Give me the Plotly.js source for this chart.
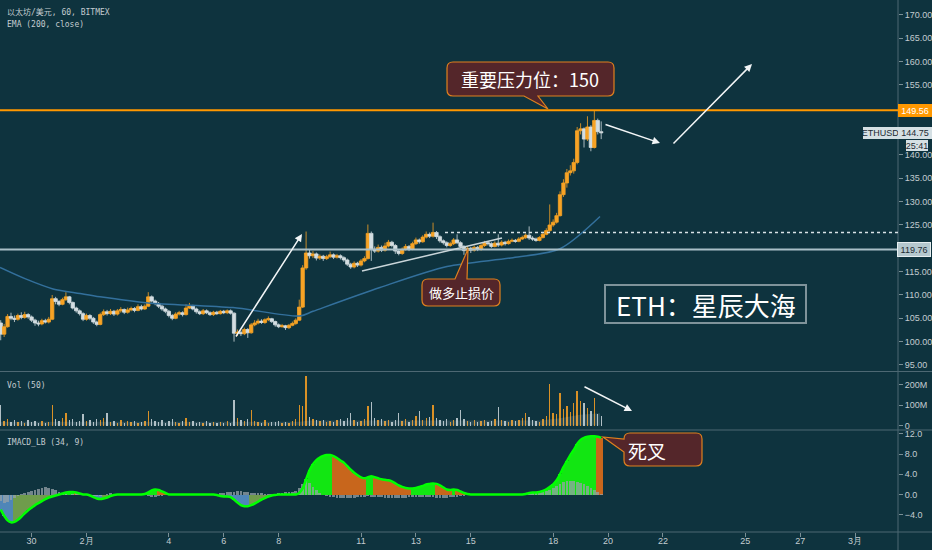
<!DOCTYPE html>
<html><head><meta charset="utf-8">
<script src="https://cdn.plot.ly/plotly-3.0.1.min.js"></script>
<style>html,body{margin:0;padding:0;background:#0e333e;}#chart{width:932px;height:550px;}</style>
</head><body><div id="chart"></div>
<script>
// ---------------- DATA ----------------
const startTime = Date.UTC(2019, 0, 28, 21, 0, 0); // first 3h candle
const barHours = 3;

const open = [104.0,101.6,103.2,105.4,105.0,104.8,105.6,105.2,105.8,105.3,
104.6,104.0,103.8,104.5,104.2,104.8,109.2,108.6,108.0,109.0,
109.6,108.4,107.2,106.6,106.0,104.8,105.6,105.0,104.2,103.7,
105.8,106.4,106.0,106.5,105.9,106.6,106.9,106.3,106.8,107.1,
106.7,107.5,107.0,107.6,109.6,108.7,108.2,107.6,107.0,106.5,
105.6,105.0,105.9,106.2,105.8,107.2,107.6,107.0,106.4,106.0,
106.6,106.2,105.8,106.3,106.0,106.5,106.2,106.6,106.1,101.8,
102.0,101.7,102.6,101.9,103.6,104.0,104.4,104.1,104.7,104.9,
104.3,103.6,103.2,103.4,103.0,103.5,103.9,104.6,107.4,115.8,
119.0,118.4,118.8,117.9,118.3,117.8,118.2,118.6,118.1,118.4,
118.0,117.5,116.6,116.0,116.8,116.4,117.3,117.8,123.2,119.8,
119.4,120.2,119.6,120.5,121.3,120.6,119.4,118.9,119.8,120.4,
119.8,121.0,121.8,121.4,122.4,123.0,122.6,123.4,122.5,121.6,
121.2,120.6,121.0,121.8,121.2,120.4,119.5,120.0,119.6,120.2,
119.8,120.6,121.2,121.0,120.4,121.1,120.7,121.3,121.0,121.5,
121.7,121.5,122.0,122.3,122.8,122.2,122.0,121.7,122.3,123.0,
123.8,125.0,125.6,127.0,131.5,134.0,136.2,136.6,138.4,145.2,
145.6,143.4,146.0,141.6,147.4,145.0];

const close = [101.6,103.2,105.4,105.0,104.8,105.6,105.2,105.8,105.3,104.6,
104.0,103.8,104.5,104.2,104.8,109.2,108.6,108.0,109.0,109.6,
108.4,107.2,106.6,106.0,104.8,105.6,105.0,104.2,103.7,105.8,
106.4,106.0,106.5,105.9,106.6,106.9,106.3,106.8,107.1,106.7,
107.5,107.0,107.6,109.6,108.7,108.2,107.6,107.0,106.5,105.6,
105.0,105.9,106.2,105.8,107.2,107.6,107.0,106.4,106.0,106.6,
106.2,105.8,106.3,106.0,106.5,106.2,106.6,106.1,101.8,102.0,
101.7,102.6,101.9,103.6,104.0,104.4,104.1,104.7,104.9,104.3,
103.6,103.2,103.4,103.0,103.5,103.9,104.6,107.4,115.8,119.0,
118.4,118.8,117.9,118.3,117.8,118.2,118.6,118.1,118.4,118.0,
117.5,116.6,116.0,116.8,116.4,117.3,117.8,123.2,119.8,119.4,
120.2,119.6,120.5,121.3,120.6,119.4,118.9,119.8,120.4,119.8,
121.0,121.8,121.4,122.4,123.0,122.6,123.4,122.5,121.6,121.2,
120.6,121.0,121.8,121.2,120.4,119.5,120.0,119.6,120.2,119.8,
120.6,121.2,121.0,120.4,121.1,120.7,121.3,121.0,121.5,121.7,
121.5,122.0,122.3,122.8,122.2,122.0,121.7,122.3,123.0,123.8,
125.0,125.6,127.0,131.5,134.0,136.2,136.6,138.4,145.2,145.6,
143.4,146.0,141.6,147.4,145.0,144.75];

const high = [104.6,103.8,105.9,106.2,105.6,106.0,106.3,106.4,106.1,105.6,
104.9,104.5,104.9,104.9,105.3,110.0,109.6,108.9,109.4,110.6,
109.8,108.6,107.5,106.9,106.3,106.0,105.9,105.3,104.5,106.2,
106.9,106.8,107.0,106.8,107.0,107.4,107.1,107.3,107.5,107.4,
108.0,107.9,108.0,110.6,109.9,109.0,108.5,107.9,107.3,106.8,
105.9,106.3,106.6,106.5,108.0,108.3,107.9,107.3,106.7,107.0,
106.9,106.5,106.6,106.6,106.8,106.8,106.9,106.9,106.3,102.6,
102.4,103.0,102.9,104.0,104.6,104.9,104.8,105.0,105.4,105.1,
104.5,103.9,103.8,103.6,103.8,104.3,105.0,109.0,116.4,123.6,
119.8,119.4,119.1,118.7,118.6,118.6,119.3,118.9,118.8,118.7,
118.3,117.8,116.9,117.2,117.1,117.7,118.3,125.1,123.6,120.4,
120.8,120.6,121.2,121.8,121.6,120.9,119.7,120.2,120.9,120.7,
121.4,122.3,122.1,122.8,123.6,123.4,125.5,123.7,122.8,121.9,
121.5,121.4,122.2,123.0,121.5,120.7,120.4,120.3,120.6,120.5,
121.0,121.6,121.5,121.3,121.5,123.0,121.7,121.6,121.9,122.1,
122.0,122.4,122.7,123.2,124.7,122.6,122.3,122.6,123.4,124.3,
129.4,126.2,127.6,132.2,134.8,137.0,137.8,139.2,146.0,146.8,
145.9,148.3,146.4,149.56,147.8,147.2];

const low = [100.3,101.0,103.0,104.6,104.2,104.5,104.8,104.9,104.9,104.2,
103.4,103.3,103.5,103.9,103.9,104.6,108.0,107.6,107.8,108.7,
108.0,106.9,106.2,105.6,104.4,104.5,104.6,103.8,103.3,103.5,
105.5,105.6,105.7,105.5,105.6,106.2,105.9,106.0,106.5,106.3,
106.5,106.7,106.8,107.4,108.4,107.8,107.2,106.6,106.1,105.2,
104.6,104.8,105.6,105.4,105.6,107.0,106.7,106.0,105.7,105.7,
105.9,105.5,105.5,105.7,105.8,105.9,105.9,105.8,100.0,101.2,
101.2,101.4,100.8,101.7,103.3,103.7,103.8,103.8,104.4,104.0,
103.2,102.9,103.0,102.5,102.7,103.3,103.6,104.4,107.2,115.4,
117.8,117.9,117.4,117.5,117.3,117.5,117.9,117.7,117.8,117.6,
117.1,116.2,115.6,115.7,116.0,116.1,117.0,117.6,117.3,119.0,
119.1,119.2,119.3,120.2,120.2,118.8,118.5,118.6,119.5,119.4,
119.6,120.7,121.0,121.2,122.1,122.2,122.3,122.0,121.2,120.8,
120.2,120.3,120.7,120.9,120.0,118.6,118.9,119.0,119.3,119.4,
119.5,120.3,120.6,120.1,120.2,120.3,120.4,120.6,120.8,121.3,
121.2,121.3,121.8,122.0,121.8,121.6,121.4,121.5,122.1,122.8,
123.5,124.6,125.3,126.8,131.0,133.0,135.6,136.0,138.0,144.4,
141.6,143.0,140.8,141.4,144.4,143.4];

// volume, millions
const volume = [100,20,30,18,25,15,22,12,28,16,
20,14,24,12,18,98,30,22,35,60,
25,30,18,22,58,20,26,15,30,25,
35,60,18,22,14,26,12,20,16,24,
14,18,22,70,30,22,16,28,14,20,
32,18,12,22,35,16,20,12,18,10,
22,14,16,10,18,12,20,14,122,35,
28,20,30,76,22,18,14,25,12,18,
15,22,10,18,14,20,30,102,95,242,
40,30,25,20,28,15,22,18,25,30,
20,35,60,25,18,22,30,95,116,35,
25,30,20,28,18,25,60,22,30,18,
25,45,70,28,35,40,102,35,28,22,
30,18,25,35,76,30,22,18,25,15,
20,28,18,22,30,90,25,20,18,28,
22,25,35,62,40,25,20,18,30,45,
204,60,55,158,80,95,65,110,167,120,
110,85,70,135,55,45];

// Volume MA (50), millions
const volMaTimes = ['2019-01-28 20:22','2019-02-08 18:40','2019-02-09 03:25','2019-02-17 12:30','2019-02-18 06:00','2019-02-18 23:30','2019-02-19 17:00'];
const volMaVals = [18,18,24,24,35,52,60];

// EMA(200, close)
const emaTimes = ['2019-01-28 20:22','2019-01-29 18:14','2019-01-30 18:43','2019-01-31 18:19','2019-02-01 11:48','2019-02-03 05:46','2019-02-06 08:05','2019-02-08 18:40','2019-02-09 06:01','2019-02-11 16:36','2019-02-14 03:12','2019-02-16 12:54','2019-02-18 06:00','2019-02-19 16:58'];
const emaVals = [115.9,113.5,111.3,110.3,109.6,108.3,107.3,105.5,106.5,111.6,116.1,118.0,119.9,126.8];

// IMACD_LB (34, 9)
const macd = [-3.0,-4.2,-5.1,-5.5,-5.4,-5.0,-4.4,-3.7,-3.1,-2.6,
-2.1,-1.7,-1.3,-0.9,-0.6,-0.4,-0.2,0.0,0.2,0.4,
0.5,0.5,0.4,0.2,0.0,0.0,-0.2,-0.5,-0.8,-0.9,
-0.8,-0.6,-0.3,-0.1,0,0,0,0,0,0,
0,0,0.1,0.4,0.8,1.0,0.9,0.6,0.3,0.0,
0,0,0,0,0,0,0,0,0,0,
0,0,0,-0.1,-0.3,-0.4,-0.4,-0.5,-1.0,-1.6,
-2.1,-2.3,-2.3,-2.1,-1.8,-1.4,-1.0,-0.7,-0.4,-0.2,
-0.1,0,0,0,0,0,0,0.3,1.2,3.0,
4.8,6.0,6.8,7.3,7.6,7.8,7.8,7.6,7.2,6.7,
6.3,5.6,4.9,4.3,3.8,3.4,3.2,3.4,3.6,3.4,
3.2,3.0,2.9,2.8,2.6,2.2,1.8,1.5,1.3,1.2,
1.2,1.3,1.5,1.7,2.0,2.1,2.2,2.1,1.8,1.4,
1.0,0.9,1.0,0.9,0.6,0.3,0.1,0,0,0,
0,0,0,0,0,0,0,0,0,0,
0,0,0,0.1,0.3,0.4,0.4,0.5,0.7,1.0,
1.5,2.0,2.8,4.0,5.4,6.6,7.8,8.8,10.0,10.8,
11.2,11.4,11.5,11.5,11.4,11.2];

const histo = [-1.2,-1.6,-1.4,-1.0,-0.6,-0.2,0.1,0.3,0.5,0.7,
0.9,1.1,1.3,1.4,1.3,1.1,0.8,0.5,0.3,0.1,
0,0.1,0.2,0.1,0,-0.1,-0.2,-0.3,-0.3,-0.2,
0,0.1,0.2,0.1,0,0,0,0,0,0,
0,0,-0.1,-0.3,-0.4,-0.4,-0.3,-0.2,-0.1,0,
0,0,0,0,0,0,0,0,0,0,
0,0,0,0.1,0.2,0.3,0.4,0.4,0.5,0.6,
0.6,0.5,0.4,0.3,0.3,0.2,0.2,0.1,0.1,0.1,
0.1,0.2,0.3,0.4,0.5,0.5,0.6,1.2,2.0,2.6,
2.2,1.5,0.8,0.3,0,-0.2,-0.4,-0.5,-0.6,-0.6,
-0.7,-0.7,-0.6,-0.6,-0.5,-0.5,-0.4,-0.3,-0.4,-0.5,
-0.5,-0.5,-0.6,-0.6,-0.6,-0.7,-0.7,-0.6,-0.6,-0.5,
-0.5,-0.4,-0.4,-0.4,-0.4,-0.5,-0.5,-0.6,-0.6,-0.6,
-0.6,-0.5,-0.5,-0.4,-0.3,-0.2,-0.1,0,0,0,
0,0,0,0,0,0,0,0,0,0,
0,0,0,0,0.1,0.2,0.2,0.3,0.4,0.6,
0.9,1.3,1.7,2.1,2.4,2.6,2.7,2.6,2.4,2.2,
2.0,1.6,1.2,0.8,0.4,0.1];

// horizontal levels
const resistLevel = 149.56;
const supportLevel = 119.76;
const dottedLevel = 123.4;
const lastPrice = 144.75;

const dateTicks = ['2019-01-30','2019-02-01','2019-02-04','2019-02-06','2019-02-08','2019-02-11','2019-02-13','2019-02-15','2019-02-18','2019-02-20','2019-02-22','2019-02-25','2019-02-27','2019-03-01'];
const dateTickText = ['30','2月','4','6','8','11','13','15','18','20','22','25','27','3月'];
const priceTicks = [170,165,160,155,140,135,130,125,115,110,105,100,95];
const volTicks = [0,100,200];
const volTickText = ['0','100M','200M'];
const macdTicks = [12,8,4,0,-4];
const macdTickText = ['12.0','8.0','4.0','0.0','\u22124.0'];

// ---------------- RENDER ----------------
const W = 932, H = 550;
const X = v => v / W, Y = v => 1 - v / H;
const pad = n => String(n).padStart(2, '0');
const fmt = ms => { const d = new Date(ms); return `${d.getUTCFullYear()}-${pad(d.getUTCMonth()+1)}-${pad(d.getUTCDate())} ${pad(d.getUTCHours())}:${pad(d.getUTCMinutes())}:${pad(d.getUTCSeconds())}`; };
const HOUR = 3600e3, DAY = 86400e3;
const times = close.map((_, i) => fmt(startTime + i * barHours * HOUR));

const feb1 = Date.UTC(2019, 1, 1);
const pxFeb1 = 86.5, pxPerDay = 27.45, axisPx = 898;
const xRange = [fmt(feb1 + (0 - pxFeb1) / pxPerDay * DAY), fmt(feb1 + (axisPx - pxFeb1) / pxPerDay * DAY)];

const BG = '#0e333e';
const UP = '#f7a325', DN = '#d3dde1';
const TXT = '#c3ccd0';
const GRIDC = '#4d6873';

const dirUp = close.map((c, i) => c >= open[i]);
const volColors = dirUp.map(u => u ? 'rgba(240,155,35,0.9)' : 'rgba(205,216,221,0.85)');
const macdColors = macd.map((v, i) => {
  const p = i ? macd[i - 1] : v;
  if (v >= 0) return v >= p ? '#12e612' : '#c8661c';
  return v <= p ? '#4f86b8' : '#6f9c4c';
});

const traces = [
  { type: 'scatter', mode: 'lines', x: emaTimes, y: emaVals, xaxis: 'x', yaxis: 'y',
    line: { color: '#33709c', width: 1.5, shape: 'spline', smoothing: 0.8 }, hoverinfo: 'skip' },
  { type: 'candlestick', x: times, open: open, high: high, low: low, close: close, xaxis: 'x', yaxis: 'y',
    increasing: { line: { color: UP, width: 0.8 }, fillcolor: UP },
    decreasing: { line: { color: DN, width: 0.8 }, fillcolor: DN },
    whiskerwidth: 0, hoverinfo: 'skip' },
  { type: 'scatter', mode: 'lines', x: volMaTimes, y: volMaVals, xaxis: 'x', yaxis: 'y2',
    fill: 'tozeroy', fillcolor: 'rgba(185,205,212,0.16)', line: { width: 0, color: 'rgba(0,0,0,0)' }, hoverinfo: 'skip' },
  { type: 'bar', x: times, y: volume, xaxis: 'x', yaxis: 'y2', width: barHours * HOUR * 0.4,
    marker: { color: volColors, line: { width: 0 } }, hoverinfo: 'skip' },
  { type: 'bar', x: times, y: macd, xaxis: 'x', yaxis: 'y3', width: barHours * HOUR,
    marker: { color: macdColors, line: { width: 0 } }, hoverinfo: 'skip' },
  { type: 'bar', x: times, y: histo, xaxis: 'x', yaxis: 'y3', width: barHours * HOUR * 0.8,
    marker: { color: 'rgba(150,162,168,0.75)', line: { width: 0 } }, hoverinfo: 'skip' },
  { type: 'scatter', mode: 'lines', x: times, y: macd, xaxis: 'x', yaxis: 'y3',
    line: { color: '#00ff00', width: 2.5, shape: 'spline', smoothing: 0.6 }, hoverinfo: 'skip' }
];

const axisCommon = { side: 'right', anchor: 'x', ticks: 'outside', ticklen: 4, tickcolor: '#7a8f96',
  showgrid: false, zeroline: false, showline: false, fixedrange: true,
  tickfont: { family: 'Liberation Sans, Arial, sans-serif', size: 9, color: TXT } };

function callout(b) {
  const P = (x, y) => `${X(x)},${Y(y)}`;
  const { x0, y0, x1, y1, r } = b;
  let d = `M${P(x0 + r, y0)}`;
  if (b.side === 'top') d += ` L${P(b.a, y0)} L${P(b.tx, b.ty)} L${P(b.c, y0)}`;
  d += ` L${P(x1 - r, y0)} Q${P(x1, y0)} ${P(x1, y0 + r)} L${P(x1, y1 - r)} Q${P(x1, y1)} ${P(x1 - r, y1)}`;
  if (b.side === 'bottom') d += ` L${P(b.c, y1)} L${P(b.tx, b.ty)} L${P(b.a, y1)}`;
  d += ` L${P(x0 + r, y1)} Q${P(x0, y1)} ${P(x0, y1 - r)}`;
  if (b.side === 'left') d += ` L${P(x0, b.c)} L${P(b.tx, b.ty)} L${P(x0, b.a)}`;
  d += ` L${P(x0, y0 + r)} Q${P(x0, y0)} ${P(x0 + r, y0)} Z`;
  return { type: 'path', xref: 'paper', yref: 'paper', path: d, fillcolor: '#54262a', line: { color: '#e0801e', width: 1.2 } };
}
const pline = (x0, y0, x1, y1, color, width, dash) => ({ type: 'line', xref: 'paper', yref: 'paper',
  x0: X(x0), y0: Y(y0), x1: X(x1), y1: Y(y1), line: { color: color, width: width, dash: dash || 'solid' } });

const shapes = [
  pline(0, 371.5, W, 371.5, GRIDC, 1),
  pline(0, 430, W, 430, GRIDC, 1),
  pline(0, 532, W, 532, GRIDC, 1),
  pline(axisPx, 0, axisPx, H, GRIDC, 1),
  { type: 'line', xref: 'paper', yref: 'y', x0: 0, x1: X(axisPx), y0: supportLevel, y1: supportLevel, line: { color: '#a9bfc7', width: 2 } },
  { type: 'line', xref: 'paper', yref: 'y', x0: 0, x1: X(axisPx), y0: resistLevel, y1: resistLevel, line: { color: '#ff9800', width: 2 } },
  { type: 'line', xref: 'paper', yref: 'y', x0: X(445), x1: X(axisPx), y0: dottedLevel, y1: dottedLevel, line: { color: '#d8e2e6', width: 1.5, dash: 'dot' } },
  pline(362, 271, 502, 238, '#c9d5d9', 1.5),
  { type: 'rect', xref: 'paper', yref: 'paper', x0: X(605), x1: X(806), y0: Y(285), y1: Y(323), line: { color: '#7f939a', width: 2 }, fillcolor: 'rgba(0,0,0,0)' },
  callout({ x0: 447, y0: 62, x1: 614, y1: 96, r: 6, side: 'bottom', a: 524, c: 538, tx: 548, ty: 109 }),
  callout({ x0: 422, y0: 279, x1: 500, y1: 306, r: 6, side: 'top', a: 455, c: 467, tx: 468, ty: 249 }),
  callout({ x0: 624, y0: 433, x1: 702, y1: 466, r: 6, side: 'left', a: 439, c: 452, tx: 603, ty: 437 })
];

const CJK = 'Noto Sans CJK SC, Noto Sans, sans-serif';
const MONO = 'DejaVu Sans Mono, Noto Sans CJK SC, monospace';
const txt = (x, y, text, size, opts) => Object.assign({ xref: 'paper', yref: 'paper', x: X(x), y: Y(y), text: text,
  showarrow: false, xanchor: 'center', yanchor: 'middle', font: { family: CJK, size: size, color: '#ffffff' } }, opts || {});
const arrow = (tx, ty, hx, hy) => ({ xref: 'paper', yref: 'paper', x: X(hx), y: Y(hy), ax: tx - hx, ay: ty - hy,
  text: '', showarrow: true, arrowhead: 2, arrowsize: 1, arrowwidth: 1.5, arrowcolor: '#f2f5f6' });
const tag = (x, y, w, h, text, bg, color, border) => ({ xref: 'paper', yref: 'paper', x: X(x), y: Y(y), text: text,
  showarrow: false, xanchor: 'center', yanchor: 'middle', width: w, height: h, borderpad: 0,
  bgcolor: bg, bordercolor: border || bg, borderwidth: border ? 1 : 0,
  font: { family: 'Liberation Sans, Arial, sans-serif', size: 9, color: color } });

const legendFont = { family: MONO, size: 8, color: TXT };
const annotations = [
  txt(5, 12, '以太坊/美元, 60, BITMEX', 8, { xanchor: 'left', font: legendFont }),
  txt(5, 25, 'EMA (200, close)', 8, { xanchor: 'left', font: legendFont }),
  txt(5, 385, 'Vol (50)', 8, { xanchor: 'left', font: legendFont }),
  txt(5, 442, 'IMACD_LB (34, 9)', 8, { xanchor: 'left', font: legendFont }),
  txt(530, 79, '重要压力位：150', 18),
  txt(461, 292.5, '做多止损价', 13),
  txt(647, 450, '死叉', 19),
  txt(706, 304, 'ETH：星辰大海', 26),
  arrow(235, 338, 302, 234),
  arrow(604, 124, 660, 143),
  arrow(672, 145, 752, 64),
  arrow(583, 386, 632, 411),
  tag(915, 110.4, 34, 13, resistLevel.toFixed(2), '#ff9800', '#ffffff'),
  tag(880, 132.8, 35, 12, 'ETHUSD', '#d5e0e4', '#1d2b33'),
  tag(915, 132.8, 34, 12, lastPrice.toFixed(2), '#d5e0e4', '#1d2b33'),
  tag(916.5, 145, 22, 11, '25:41', '#d5e0e4', '#1d2b33'),
  tag(914, 249.5, 32, 13, supportLevel.toFixed(2), '#b5c8ce', '#1d2b33', '#e6eef0')
];

const layout = {
  width: W, height: H, margin: { l: 0, r: 0, t: 0, b: 0 },
  paper_bgcolor: BG, plot_bgcolor: BG, showlegend: false, barmode: 'overlay', bargap: 0,
  boxgap: 0.02, boxgroupgap: 0,
  font: { family: 'Liberation Sans, Arial, sans-serif', size: 9, color: TXT },
  xaxis: { type: 'date', domain: [0, X(axisPx)], range: xRange, anchor: 'y3',
    tickmode: 'array', tickvals: dateTicks, ticktext: dateTickText,
    ticks: 'outside', ticklen: 4, tickcolor: '#7a8f96', showgrid: false, zeroline: false, showline: false,
    ticklabelstandoff: -4,
    rangeslider: { visible: false }, fixedrange: true,
    tickfont: { family: 'Liberation Sans, Arial, sans-serif', size: 9, color: TXT } },
  yaxis: Object.assign({}, axisCommon, { domain: [Y(371), 1], range: [93.71, 173.21],
    tickmode: 'array', tickvals: priceTicks, ticktext: priceTicks.map(v => v.toFixed(2)) }),
  yaxis2: Object.assign({}, axisCommon, { domain: [Y(429.5), Y(372)], range: [-19.5, 261],
    tickmode: 'array', tickvals: volTicks, ticktext: volTickText }),
  yaxis3: Object.assign({}, axisCommon, { domain: [Y(532), Y(430.5)], range: [-7.41, 12.65],
    tickmode: 'array', tickvals: macdTicks, ticktext: macdTickText }),
  shapes: shapes, annotations: annotations
};

Plotly.newPlot('chart', traces, layout, { staticPlot: true, displayModeBar: false });
</script></body></html>
